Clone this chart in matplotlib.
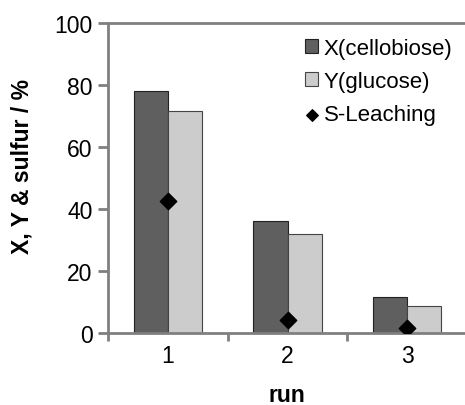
import matplotlib
matplotlib.use("Agg")
import matplotlib.pyplot as plt
import numpy as np

plt.rcParams['font.family'] = ['Liberation Sans', 'DejaVu Sans']

runs = [1, 2, 3]
run_labels = ['1', '2', '3']
x_cellobiose = [78.0, 36.0, 11.5]
y_glucose = [71.5, 32.0, 8.8]
s_leaching = [42.7, 4.3, 1.6]

W, H = 465, 406
fig = plt.figure(figsize=(W/100, H/100), dpi=100)
ax = fig.add_axes([108/W, 1 - 334/H, (467-108)/W, (334-24)/H])

x = np.array(runs, dtype=float)
w = 0.285
b1 = ax.bar(x - w/2, x_cellobiose, width=w, color='#5f5f5f', edgecolor='#222222', linewidth=0.8,
            label='X(cellobiose)', zorder=2)
b2 = ax.bar(x + w/2, y_glucose, width=w, color='#cccccc', edgecolor='#444444', linewidth=0.8,
            label='Y(glucose)', zorder=2)
sc = ax.scatter(x, s_leaching, marker='D', s=70, color='black', zorder=3, label='S-Leaching')

ax.set_xlim(0.5, 3.5)
ax.set_ylim(0, 100)
ax.set_yticks([0, 20, 40, 60, 80, 100])
ax.set_xticks([0.5, 1.5, 2.5, 3.5])
ax.set_xticklabels([])
ax.set_xticks(x, minor=True)
ax.set_xticklabels(run_labels, minor=True)
ax.tick_params(axis='x', which='major', direction='out', length=6, width=2, color='#808080')
ax.tick_params(axis='x', which='minor', length=0, labelsize=16.5, pad=8)
ax.tick_params(axis='y', direction='out', length=7, width=2, color='#808080', labelsize=16.5, pad=4)

for s in ['left', 'top', 'bottom']:
    ax.spines[s].set_color('#808080')
    ax.spines[s].set_linewidth(2)
ax.spines['right'].set_visible(False)

fig.text(22/W, 1 - 166/H, 'X, Y & sulfur / %', fontsize=16.5, fontweight='bold',
         rotation=90, ha='center', va='center')
fig.text(287/W, 1 - 396/H, 'run', fontsize=16.5, fontweight='bold', ha='center', va='center')

leg = ax.legend(handles=[b1, b2, sc], loc='upper left',
                bbox_to_anchor=((305-108)/359, 1 - (39-24)/310),
                frameon=False, fontsize=16, markerscale=0.7,
                handlelength=0.6, handleheight=0.6, handletextpad=0.25, labelspacing=0.55,
                borderaxespad=0.0, borderpad=0.0)

fig.savefig('out.png', dpi=100)
